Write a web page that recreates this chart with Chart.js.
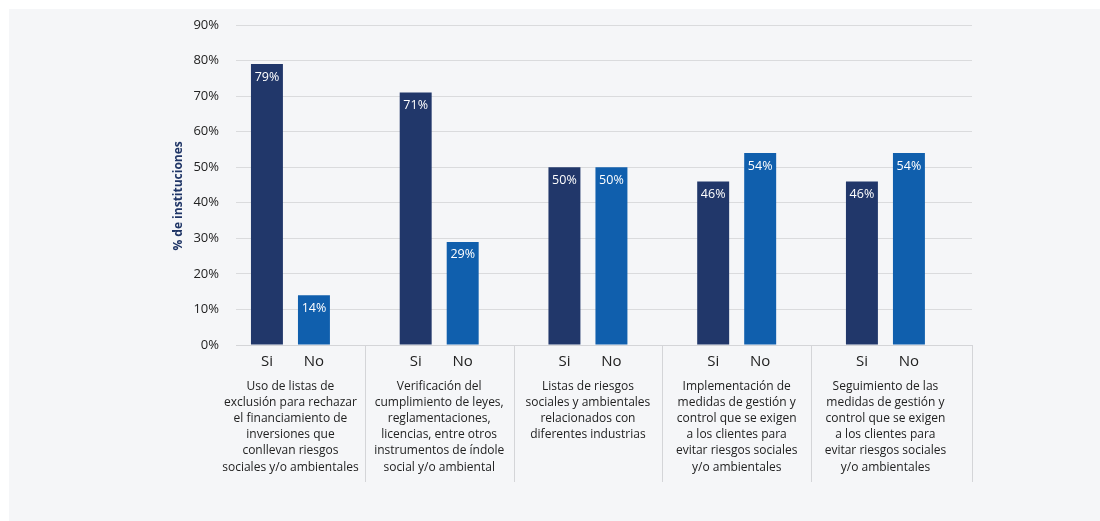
<!DOCTYPE html>
<html>
<head>
<meta charset="utf-8">
<script src="https://cdn.jsdelivr.net/npm/chart.js@4"></script>
<style>
  html, body { margin: 0; padding: 0; background: #fff; }
  #wrap { position: absolute; left: 9px; top: 9px; width: 1091px; height: 512px; background: #f5f6f8; }
</style>
</head>
<body>
<div id="wrap"><canvas id="chart"></canvas></div>
<script>
const categories = [
  ['Uso de listas de', 'exclusión para rechazar', 'el financiamiento de', 'inversiones que', 'conllevan riesgos', 'sociales y/o ambientales'],
  ['Verificación del', 'cumplimiento de leyes,', 'reglamentaciones,', 'licencias, entre otros', 'instrumentos de índole', 'social y/o ambiental'],
  ['Listas de riesgos', 'sociales y ambientales', 'relacionados con', 'diferentes industrias'],
  ['Implementación de', 'medidas de gestión y', 'control que se exigen', 'a los clientes para', 'evitar riesgos sociales', 'y/o ambientales'],
  ['Seguimiento de las', 'medidas de gestión y', 'control que se exigen', 'a los clientes para', 'evitar riesgos sociales', 'y/o ambientales']
];
const seriesNames = ['Si', 'No'];
const siValues = [79, 71, 50, 46, 46];
const noValues = [14, 29, 50, 54, 54];
const yMax = 90;
const yStep = 10;

const FONT = '"Open Sans", sans-serif';

// values inside the top of each bar, Si / No under each bar, dividers between groups
const barText = {
  id: 'barText',
  afterDatasetsDraw(chart) {
    const ctx = chart.ctx;
    const base = chart.scales.y.getPixelForValue(0);
    ctx.save();
    ctx.textAlign = 'center';
    ctx.textBaseline = 'middle';
    chart.data.datasets.forEach((ds, i) => {
      chart.getDatasetMeta(i).data.forEach((bar, j) => {
        ctx.fillStyle = '#ffffff';
        ctx.font = '12.5px ' + FONT;
        ctx.fillText(ds.data[j].y + '%', bar.x, bar.y + 13);
        ctx.fillStyle = '#222222';
        ctx.font = '15px ' + FONT;
        ctx.fillText(ds.label, bar.x, base + 17);
      });
    });
    const x = chart.scales.x;
    ctx.strokeStyle = '#d4d5d8';
    ctx.lineWidth = 1;
    for (let i = 0; i < categories.length; i++) {
      let px = i < categories.length - 1 ? x.getPixelForValue(i + 0.5) : chart.chartArea.right;
      px = Math.round(px) + 0.5;
      ctx.beginPath();
      ctx.moveTo(px, base);
      ctx.lineTo(px, base + 137);
      ctx.stroke();
    }
    ctx.restore();
  }
};

new Chart(document.getElementById('chart'), {
  type: 'bar',
  data: {
    datasets: [
      { label: seriesNames[0], data: siValues.map((v, i) => ({ x: i, y: v })), backgroundColor: '#21376a' },
      { label: seriesNames[1], data: noValues.map((v, i) => ({ x: i, y: v })), backgroundColor: '#105fad' }
    ]
  },
  options: {
    responsive: true,
    maintainAspectRatio: false,
    animation: false,
    categoryPercentage: 0.632,
    barPercentage: 0.68,
    layout: { padding: { left: 158, right: 128, top: 16, bottom: 0 } },
    plugins: { legend: { display: false }, tooltip: { enabled: false } },
    scales: {
      x: {
        type: 'linear',
        offset: false,
        min: -0.366,
        max: 4.582,
        grid: { display: false, offset: false },
        border: { color: '#d4d5d8', width: 1 },
        ticks: {
          color: '#222222',
          font: { family: FONT, size: 12, lineHeight: 1.35 },
          padding: 25,
          maxRotation: 0,
          autoSkip: false,
          callback: v => categories[v]
        },
        afterBuildTicks(scale) { scale.ticks = categories.map((c, i) => ({ value: i })); },
        afterFit(scale) { scale.height = 176; }
      },
      y: {
        min: 0,
        max: yMax,
        grid: { color: '#dadbdd', drawTicks: false },
        border: { display: false },
        ticks: {
          stepSize: yStep,
          color: '#222222',
          font: { family: FONT, size: 13 },
          padding: 17,
          callback: v => v + '%'
        },
        title: {
          display: true,
          text: '% de instituciones       ',
          color: '#1f3566',
          font: { family: FONT, size: 12, weight: 'bold' },
          padding: 4
        },
        afterFit(scale) {
          scale.width = 69;
          scale.paddingTop = 0;
          scale.paddingBottom = 0;
        }
      }
    }
  },
  plugins: [barText]
});
</script>
</body>
</html>
